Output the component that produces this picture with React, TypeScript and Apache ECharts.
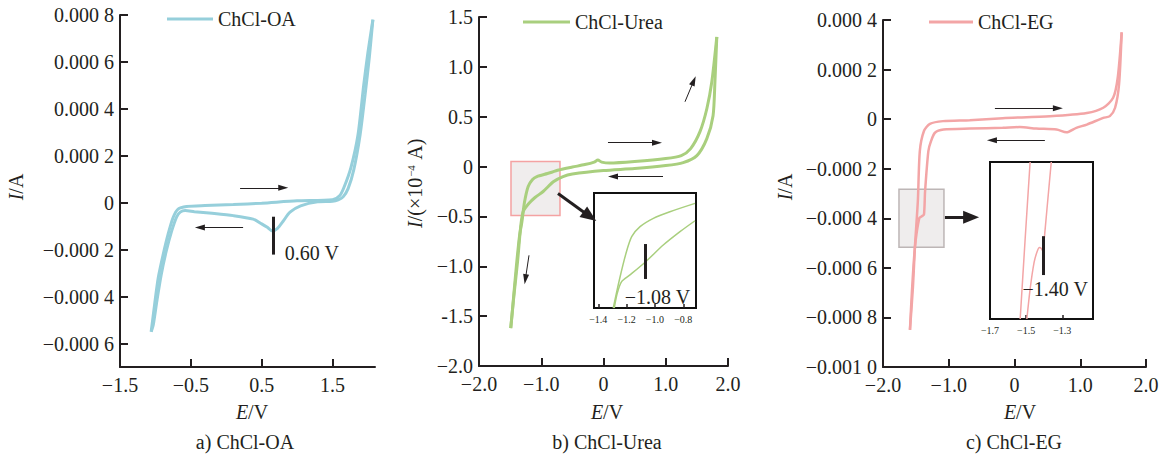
import React, { useEffect, useRef } from "react";
import * as echarts from "echarts";

const FONT = '"Liberation Serif", "Times New Roman", Times, serif';
const INK = "#231f20";
const COLOR_A = "#96cfdb";
const COLOR_B = "#a9cf7e";
const COLOR_C = "#f3a5a6";

// ---------- Panel a: ChCl-OA (E / V, I / A) ----------
const oaForwardE = [-1.06, -1.01, -0.96, -0.89, -0.82, -0.75, -0.68, -0.56, -0.3, 0.1, 0.5, 1.0, 1.5, 1.6, 1.66, 1.76, 1.86, 1.94, 2.0, 2.07];
const oaForwardI = [-0.00055, -0.00043, -0.00032, -0.00022, -0.000133, -0.000063, -0.000027, -0.000016, -0.000012, -0.000008, -0.000002, 0.000008, 0.000013, 0.00003, 0.000064, 0.00015, 0.00029, 0.0005, 0.00064, 0.00078];
const oaReverseE = [2.07, 2.02, 1.96, 1.89, 1.8, 1.72, 1.65, 1.58, 1.5, 1.29, 1.05, 0.9, 0.8, 0.72, 0.65, 0.58, 0.5, 0.38, 0.1, -0.2, -0.45, -0.58, -0.65, -0.7, -0.77, -0.85, -0.92, -0.98, -1.03, -1.06];
const oaReverseI = [0.00078, 0.00062, 0.00046, 0.00029, 0.00014, 0.00006, 0.000025, 0.000012, 0.000006, 0.000004, -0.000013, -0.00004, -0.00008, -0.00011, -0.00012, -0.000105, -0.00009, -0.00007, -0.000055, -0.000045, -0.000038, -0.000033, -0.00004, -0.00006, -0.00012, -0.00021, -0.00031, -0.00042, -0.00052, -0.00055];
const aXTicks = [-0.5, 0.5, 1.5];
const aXLabelValues = [-1.5, -0.5, 0.5, 1.5];
const aXLabels = ["−1.5", "−0.5", "0.5", "1.5"];
const aYTicks = [-0.0006, -0.0004, -0.0002, 0, 0.0002, 0.0004, 0.0006, 0.0008];
const aYLabels = ["−0.000 6", "−0.000 4", "−0.000 2", "0", "0.000 2", "0.000 4", "0.000 6", "0.000 8"];

// ---------- Panel b: ChCl-Urea (E / V, I / 1e-4 A) ----------
const ureaForwardE = [-1.49, -1.45, -1.4, -1.35, -1.31, -1.27, -1.21, -1.14, -1.07, -0.9, -0.72, -0.5, -0.3, -0.15, -0.09, -0.03, 0.1, 0.5, 1.0, 1.25, 1.4, 1.55, 1.66, 1.74, 1.82];
const ureaForwardI = [-1.62, -1.35, -1.0, -0.7, -0.55, -0.36, -0.2, -0.13, -0.1, -0.07, -0.035, -0.005, 0.02, 0.045, 0.065, 0.045, 0.035, 0.05, 0.08, 0.11, 0.18, 0.35, 0.58, 0.85, 1.3];
const ureaReverseE = [1.82, 1.79, 1.76, 1.66, 1.5, 1.28, 1.0, 0.5, 0.0, -0.5, -0.65, -0.8, -0.97, -1.1, -1.2, -1.29, -1.33, -1.38, -1.44, -1.49];
const ureaReverseI = [1.3, 0.85, 0.51, 0.28, 0.11, 0.04, 0.01, -0.02, -0.04, -0.075, -0.1, -0.15, -0.25, -0.31, -0.37, -0.45, -0.6, -0.95, -1.3, -1.62];
const bXTicks = [-1, 0, 1, 2];
const bXLabelValues = [-2, -1, 0, 1, 2];
const bXLabels = ["−2.0", "−1.0", "0", "1.0", "2.0"];
const bYTicks = [-1.5, -1, -0.5, 0, 0.5, 1, 1.5];
const bYLabelValues = [-2, -1.5, -1, -0.5, 0, 0.5, 1, 1.5];
const bYLabels = ["−2.0", "-1.5", "−1.0", "−0.5", "0", "0.5", "1.0", "1.5"];

// inset b (zoom of the -1.4 .. -0.7 V region)
const ureaInsetUpperE = [-1.294, -1.251, -1.204, -1.164, -1.105, -1.011, -0.894, -0.717];
const ureaInsetUpperI = [-1.0, -0.805, -0.619, -0.504, -0.434, -0.376, -0.33, -0.272];
const ureaInsetLowerE = [-1.287, -1.266, -1.235, -1.176, -1.065, -0.941, -0.823, -0.717];
const ureaInsetLowerI = [-1.0, -0.898, -0.817, -0.77, -0.678, -0.562, -0.469, -0.393];
const bInsetTicks = [-1.4, -1.2, -1.0, -0.8];
const bInsetLabels = ["−1.4", "−1.2", "−1.0", "−0.8"];

// ---------- Panel c: ChCl-EG (E / V, I / A) ----------
const egForwardE = [-1.59, -1.544, -1.514, -1.47, -1.44, -1.377, -1.286, -1.088, -0.68, -0.18, 0.54, 1.1, 1.35, 1.5, 1.57, 1.63];
const egForwardI = [-0.00085, -0.000675, -0.000513, -0.000331, -0.000129, -0.000048, -0.000019, -0.000008, -0.000004, 0.000004, 0.000012, 0.000025, 0.000046, 0.000086, 0.000167, 0.00035];
const egReverseE = [1.63, 1.59, 1.53, 1.45, 1.35, 1.1, 0.94, 0.79, 0.64, 0.33, 0.08, -0.18, -0.68, -1.08, -1.21, -1.27, -1.31, -1.36, -1.377, -1.41, -1.448, -1.514, -1.56, -1.59];
const egReverseI = [0.00035, 0.00014, 0.000046, 0.000012, 0.000005, -0.000022, -0.000035, -0.000053, -0.000042, -0.000038, -0.000032, -0.000035, -0.000038, -0.000042, -0.000055, -0.000089, -0.000129, -0.000291, -0.000385, -0.000392, -0.000399, -0.000516, -0.000695, -0.00085];
const cXTicks = [-1, 0, 1, 2];
const cXLabelValues = [-2, -1, 0, 1, 2];
const cXLabels = ["−2.0", "−1.0", "0", "1.0", "2.0"];
const cYTicks = [-0.0008, -0.0006, -0.0004, -0.0002, 0, 0.0002, 0.0004];
const cYLabelValues = [-0.001, -0.0008, -0.0006, -0.0004, -0.0002, 0, 0.0002, 0.0004];
const cYLabels = ["−0.001 0", "−0.000 8", "−0.000 6", "−0.000 4", "−0.000 2", "0", "0.000 2", "0.000 4"];

// inset c (zoom of the -1.7 .. -1.13 V region)
const egInsetLeftE = [-1.533, -1.506, -1.478];
const egInsetLeftI = [-0.0006, -0.0004, -0.0002];
const egInsetRightE = [-1.496, -1.478, -1.456, -1.439, -1.426, -1.417, -1.407, -1.4, -1.385, -1.361];
const egInsetRightI = [-0.0006, -0.000524, -0.000456, -0.000428, -0.000418, -0.00042, -0.000427, -0.000397, -0.000321, -0.0002];
const cInsetTicks = [-1.5, -1.3];
const cInsetLabelValues = [-1.7, -1.5, -1.3];
const cInsetLabels = ["−1.7", "−1.5", "−1.3"];

const pairs = (xs: number[], ys: number[]) => xs.map((x, i) => [x, ys[i]]);
const pick = (vals: number[], labels: string[]) => (v: number) => {
  const i = vals.findIndex((t) => Math.abs(t - v) < 1e-9);
  return i >= 0 ? labels[i] : "";
};

const mainAxisLine = { show: true, onZero: false, lineStyle: { color: INK, width: 2 } };
const mainTick = (vals: number[]) => ({
  show: true,
  inside: true,
  length: 8,
  customValues: vals,
  lineStyle: { color: INK, width: 2 },
});
const mainLabel = (vals: number[], labels: string[], margin: number) => ({
  show: true,
  customValues: vals,
  formatter: pick(vals, labels),
  fontFamily: FONT,
  fontSize: 20,
  color: INK,
  margin,
});

const mainX = (g: number, min: number, max: number, ticks: number[], lv: number[], ll: string[]) => ({
  type: "value",
  gridIndex: g,
  min,
  max,
  splitLine: { show: false },
  axisLine: mainAxisLine,
  axisTick: mainTick(ticks),
  axisLabel: mainLabel(lv, ll, 8),
});
const mainY = (g: number, min: number, max: number, ticks: number[], lv: number[], ll: string[]) => ({
  type: "value",
  gridIndex: g,
  min,
  max,
  splitLine: { show: false },
  axisLine: mainAxisLine,
  axisTick: mainTick(ticks),
  axisLabel: mainLabel(lv, ll, 6),
});
const insetX = (g: number, min: number, max: number, ticks: number[], lv: number[], ll: string[]) => ({
  type: "value",
  gridIndex: g,
  min,
  max,
  splitLine: { show: false },
  axisLine: { show: false, onZero: false },
  axisTick: { show: true, inside: true, length: 4, customValues: ticks, lineStyle: { color: INK, width: 1.5 } },
  axisLabel: { show: true, customValues: lv, formatter: pick(lv, ll), fontFamily: FONT, fontSize: 10, color: INK, margin: 6 },
});
const insetY = (g: number, min: number, max: number) => ({
  type: "value",
  gridIndex: g,
  min,
  max,
  splitLine: { show: false },
  axisLine: { show: false, onZero: false },
  axisTick: { show: false },
  axisLabel: { show: false },
});

const arrow = (from: number[], to: number[], width = 1, size = [6, 10]) => [
  { coord: from, symbol: "none", lineStyle: { width, color: INK, type: "solid" } },
  { coord: to, symbol: "triangle", symbolSize: size },
];
const bar = (from: number[], to: number[]) => [
  { coord: from, symbol: "none", lineStyle: { width: 3, color: INK, type: "solid" } },
  { coord: to, symbol: "none" },
];
const markLine = (data: any[]) => ({
  silent: true,
  symbol: ["none", "triangle"],
  label: { show: false },
  lineStyle: { color: INK, width: 1, type: "solid" },
  emphasis: { disabled: true },
  data,
});
const textMark = (coord: number[], text: string) => ({
  silent: true,
  symbol: "circle",
  symbolSize: 1,
  itemStyle: { color: "rgba(0,0,0,0)" },
  label: {
    show: true,
    position: "inside",
    formatter: text,
    fontFamily: FONT,
    fontSize: 20,
    color: INK,
  },
  data: [{ coord }],
});

const lineSeries = (name: string, color: string, width: number, xi: number, data: number[][], extra: any = {}) => ({
  type: "line",
  name,
  xAxisIndex: xi,
  yAxisIndex: xi,
  data,
  color,
  showSymbol: false,
  symbol: "none",
  smooth: 0.25,
  lineStyle: { color, width },
  emphasis: { disabled: true },
  z: 3,
  ...extra,
});

const titleText = (x: number, y: number, text: string, rotate = false, rich: any = {}) => ({
  type: "text",
  x,
  y,
  rotation: rotate ? Math.PI / 2 : 0,
  style: {
    text,
    fill: INK,
    fontFamily: FONT,
    fontSize: 20,
    align: "center",
    verticalAlign: "middle",
    rich: {
      i: { fontStyle: "italic", fontFamily: FONT, fontSize: 20, fill: INK },
      ...rich,
    },
  },
});

const legendCfg = (name: string, left: number, top: number, w: number) => ({
  data: [name],
  left,
  top,
  padding: 0,
  itemWidth: w,
  itemHeight: 3,
  icon: "rect",
  selectedMode: false,
  textStyle: { fontFamily: FONT, fontSize: 20, color: INK },
});

const option: any = {
  animation: false,
  backgroundColor: "#ffffff",
  grid: [
    { left: 120, top: 15, width: 255, height: 352, outerBoundsMode: "none" },
    { left: 479, top: 17, width: 249, height: 349, outerBoundsMode: "none" },
    { left: 883, top: 20, width: 263, height: 347, outerBoundsMode: "none" },
    { left: 594, top: 193, width: 102, height: 115, show: true, borderColor: "#111", borderWidth: 2, backgroundColor: "#fff", outerBoundsMode: "none" },
    { left: 990, top: 162, width: 103, height: 157, show: true, borderColor: "#111", borderWidth: 2, backgroundColor: "#fff", outerBoundsMode: "none" },
  ],
  xAxis: [
    mainX(0, -1.5, 2.1, aXTicks, aXLabelValues, aXLabels),
    mainX(1, -2, 2, bXTicks, bXLabelValues, bXLabels),
    mainX(2, -2, 2, cXTicks, cXLabelValues, cXLabels),
    insetX(3, -1.43, -0.71, bInsetTicks, bInsetTicks, bInsetLabels),
    insetX(4, -1.7, -1.13, cInsetTicks, cInsetLabelValues, cInsetLabels),
  ],
  yAxis: [
    mainY(0, -0.0007, 0.0008, aYTicks, aYTicks, aYLabels),
    mainY(1, -2, 1.5, bYTicks, bYLabelValues, bYLabels),
    mainY(2, -0.001, 0.0004, cYTicks, cYLabelValues, cYLabels),
    insetY(3, -1.0, -0.2),
    insetY(4, -0.0006, -0.0002),
  ],
  legend: [
    legendCfg("ChCl-OA", 167, 9, 46),
    legendCfg("ChCl-Urea", 523, 12, 47),
    legendCfg("ChCl-EG", 929, 12, 44),
  ],
  series: [
    lineSeries("ChCl-OA", COLOR_A, 3, 0, pairs(oaForwardE, oaForwardI), {
      markLine: markLine([
        arrow([0.195, 0.0000638], [0.805, 0.0000638]),
        arrow([0.238, -0.000106], [-0.372, -0.000106]),
        bar([0.663, -0.0000596], [0.663, -0.000221]),
      ]),
      markPoint: textMark([1.209, -0.000213], "0.60 V"),
    }),
    lineSeries("ChCl-OA", COLOR_A, 3, 0, pairs(oaReverseE, oaReverseI)),
    lineSeries("ChCl-Urea", COLOR_B, 3, 1, pairs(ureaForwardE, ureaForwardI), {
      markLine: markLine([
        arrow([0.072, 0.24], [0.859, 0.24]),
        arrow([0.956, -0.1], [0.153, -0.1]),
        arrow([1.309, 0.65], [1.45, 0.86]),
        arrow([-1.197, -0.89], [-1.255, -1.13]),
        arrow([-0.731, -0.27], [-0.22, -0.5], 3, [13, 16]),
      ]),
      markArea: {
        silent: true,
        itemStyle: { color: "rgba(222,214,214,0.45)", borderColor: "#f4a2a2", borderWidth: 1.5 },
        data: [[{ coord: [-1.486, 0.05] }, { coord: [-0.699, -0.49] }]],
      },
    }),
    lineSeries("ChCl-Urea", COLOR_B, 3, 1, pairs(ureaReverseE, ureaReverseI)),
    lineSeries("ChCl-EG", COLOR_C, 2.5, 2, pairs(egForwardE, egForwardI), {
      markLine: markLine([
        arrow([-0.298, 0.0000444], [0.66, 0.0000444]),
        arrow([0.462, -0.0000848], [-0.343, -0.0000848]),
        arrow([-1.058, -0.000396], [-0.66, -0.000396], 3, [13, 16]),
      ]),
      markArea: {
        silent: true,
        itemStyle: { color: "rgba(215,210,210,0.4)", borderColor: "#bdb6b6", borderWidth: 1.5 },
        data: [[{ coord: [-1.757, -0.000283] }, { coord: [-1.073, -0.000517] }]],
      },
    }),
    lineSeries("ChCl-EG", COLOR_C, 2.5, 2, pairs(egReverseE, egReverseI)),
    lineSeries("ChCl-Urea inset", COLOR_B, 1.5, 3, pairs(ureaInsetUpperE, ureaInsetUpperI), {
      markLine: markLine([bar([-1.065, -0.555], [-1.065, -0.798])]),
      markPoint: textMark([-0.982, -0.923], "−1.08 V"),
    }),
    lineSeries("ChCl-Urea inset", COLOR_B, 1.5, 3, pairs(ureaInsetLowerE, ureaInsetLowerI)),
    lineSeries("ChCl-EG inset", COLOR_C, 1.5, 4, pairs(egInsetLeftE, egInsetLeftI)),
    lineSeries("ChCl-EG inset", COLOR_C, 1.5, 4, pairs(egInsetRightE, egInsetRightI), {
      markLine: markLine([bar([-1.404, -0.000389], [-1.404, -0.000488])]),
      markPoint: textMark([-1.339, -0.000524], "−1.40 V"),
    }),
  ],
  graphic: {
    elements: [
      titleText(16, 187, "{i|I}/A", true),
      titleText(252, 412, "{i|E}/V"),
      titleText(245, 442, "a) ChCl-OA"),
      titleText(415, 183, "{i|I}/(×10{s|−4} A)", true, {
        s: { fontSize: 11, fontFamily: FONT, fill: INK, verticalAlign: "top", padding: [0, 1, 8, 1] },
      }),
      titleText(607, 412, "{i|E}/V"),
      titleText(607, 442, "b) ChCl-Urea"),
      titleText(785, 187, "{i|I}/A", true),
      titleText(1020, 412, "{i|E}/V"),
      titleText(1014, 442, "c) ChCl-EG"),
    ],
  },
};

export default function App() {
  const ref = useRef<HTMLDivElement>(null);
  useEffect(() => {
    document.body.style.margin = "0";
    const chart = echarts.init(ref.current!, null, { renderer: "svg" });
    chart.setOption(option);
    return () => chart.dispose();
  }, []);
  return <div ref={ref} style={{ width: 1166, height: 456, background: "#fff" }} />;
}
